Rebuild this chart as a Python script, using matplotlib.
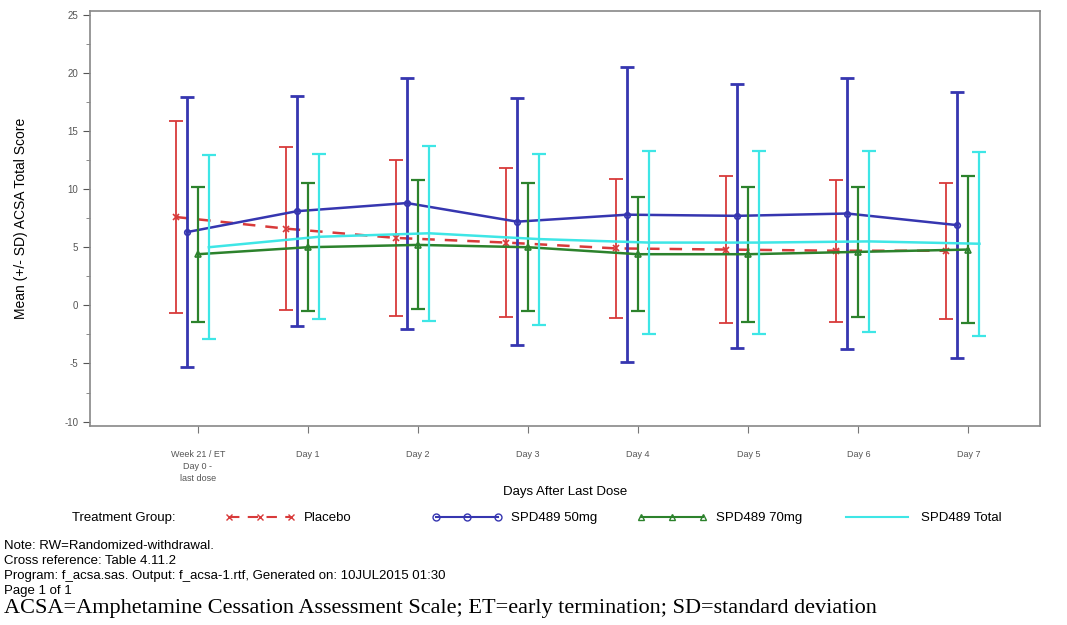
import numpy as np
import matplotlib.pyplot as plt
from matplotlib.lines import Line2D

# visit labels on the x axis
visits = ['Week 21 / ET\nDay 0 -\nlast dose', 'Day 1', 'Day 2', 'Day 3',
          'Day 4', 'Day 5', 'Day 6', 'Day 7']

# mean and SD per treatment group
placebo_mean = [7.6, 6.6, 5.8, 5.4, 4.9, 4.8, 4.7, 4.7]
placebo_sd = [8.25, 7.0, 6.7, 6.4, 5.95, 6.35, 6.1, 5.85]

spd50_mean = [6.3, 8.1, 8.8, 7.2, 7.8, 7.7, 7.9, 6.9]
spd50_sd = [11.6, 9.9, 10.8, 10.65, 12.7, 11.35, 11.65, 11.45]

spd70_mean = [4.4, 5.0, 5.2, 5.0, 4.4, 4.4, 4.6, 4.8]
spd70_sd = [5.8, 5.5, 5.55, 5.5, 4.9, 5.8, 5.6, 6.3]

total_mean = [5.0, 5.9, 6.2, 5.7, 5.4, 5.4, 5.5, 5.3]
total_sd = [7.9, 7.1, 7.55, 7.35, 7.85, 7.85, 7.8, 7.9]

groups = ['Placebo', 'SPD489 50mg', 'SPD489 70mg', 'SPD489 Total']

notes = ['Note: RW=Randomized-withdrawal.',
         'Cross reference: Table 4.11.2',
         'Program: f_acsa.sas. Output: f_acsa-1.rtf, Generated on: 10JUL2015 01:30',
         'Page 1 of 1']
footer = 'ACSA=Amphetamine Cessation Assessment Scale; ET=early termination; SD=standard deviation'

plt.rcParams['font.family'] = ['Liberation Sans', 'DejaVu Sans']
plt.rcParams['axes.unicode_minus'] = False

fig = plt.figure(figsize=(10.67, 6.25), dpi=100)
ax = fig.add_axes([0.0843, 0.318, 0.8904, 0.664])

x = np.arange(len(visits))

# style per group: colour, offset, linestyle, marker, errorbar width
styles = [
    ('#d83a3a', -0.2, (0, (5, 4)), 'x', 1.3),
    ('#3636b0', -0.1, '-', 'o', 2.0),
    ('#2c822c', 0.0, '-', '^', 1.6),
    ('#3ee6e6', 0.1, '-', None, 1.6),
]
means = [placebo_mean, spd50_mean, spd70_mean, total_mean]
sds = [placebo_sd, spd50_sd, spd70_sd, total_sd]

handles = []
for (col, off, ls, mk, elw), m, s, name in zip(styles, means, sds, groups):
    ax.errorbar(x + off, m, yerr=s, fmt='none', ecolor=col, elinewidth=elw,
                capsize=5, capthick=elw)
    ax.plot(x + off, m, color=col, linestyle=ls, linewidth=1.8,
            marker=mk, markersize=4, markerfacecolor='none', markeredgewidth=1.2)
    handles.append(Line2D([], [], color=col, linestyle=ls, linewidth=1.5,
                          marker=mk if mk else None, markersize=5,
                          markerfacecolor='none', label=name))

ax.set_xlim(-0.98, 7.65)
ax.set_ylim(-10.4, 25.3)
ax.set_yticks(np.arange(-10, 26, 5))
ax.set_yticks(np.arange(-7.5, 25, 5), minor=True)
ax.set_xticks(x)
ax.set_xticklabels(visits, fontsize=6.5, color='#555555', linespacing=1.45)
ax.tick_params(axis='y', labelsize=7, colors='#555555', length=5)
ax.tick_params(axis='y', which='minor', length=3, colors='#777777')
ax.tick_params(axis='x', length=5, colors='#777777', labelcolor='#555555', pad=12)
for sp in ax.spines.values():
    sp.set_color('#888888')
    sp.set_linewidth(1.2)

ax.set_xlabel('Days After Last Dose', fontsize=9.5, labelpad=2)
ax.set_ylabel('Mean (+/- SD) ACSA Total Score', fontsize=10, labelpad=26)

# legend row: SAS puts each entry at a fixed slot
ly = 1 - 518 / 625
fig.text(72 / 1067, ly, 'Treatment Group:', fontsize=9.5, va='center')
for h, px in zip(handles, [225, 432, 637, 842]):
    fig.legend(handles=[h], loc='center left', bbox_to_anchor=(px / 1067, ly),
               frameon=False, fontsize=9.5, numpoints=3, handlelength=5.3,
               handletextpad=0.7, borderpad=0, borderaxespad=0)

# footnotes
for i, line in enumerate(notes):
    fig.text(4 / 1067, 1 - (546 + i * 15) / 625, line, fontsize=9.5, va='center')
fig.text(4 / 1067, 1 - 608 / 625, footer, fontsize=16, va='center',
         family=['Liberation Serif', 'DejaVu Serif'])

fig.savefig('out.png', dpi=100)
